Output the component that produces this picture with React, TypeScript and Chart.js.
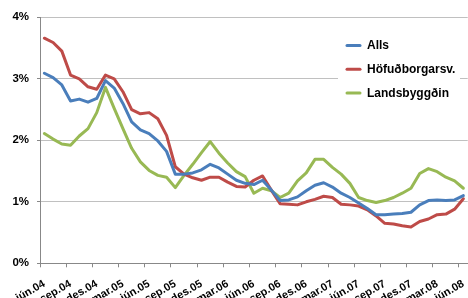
import React, { useEffect, useRef } from 'react';
import { Chart, registerables } from 'chart.js';

Chart.register(...registerables);

const categories = [
  'jún.04', 'júl.04', 'ágú.04', 'sep.04', 'okt.04', 'nóv.04', 'des.04',
  'jan.05', 'feb.05', 'mar.05', 'apr.05', 'maí.05', 'jún.05', 'júl.05', 'ágú.05', 'sep.05', 'okt.05', 'nóv.05', 'des.05',
  'jan.06', 'feb.06', 'mar.06', 'apr.06', 'maí.06', 'jún.06', 'júl.06', 'ágú.06', 'sep.06', 'okt.06', 'nóv.06', 'des.06',
  'jan.07', 'feb.07', 'mar.07', 'apr.07', 'maí.07', 'jún.07', 'júl.07', 'ágú.07', 'sep.07', 'okt.07', 'nóv.07', 'des.07',
  'jan.08', 'feb.08', 'mar.08', 'apr.08', 'maí.08', 'jún.08',
];

const alls = [
  3.09, 3.02, 2.90, 2.64, 2.67, 2.62, 2.68, 2.97, 2.85, 2.60, 2.30, 2.17, 2.11, 1.99, 1.82, 1.45,
  1.45, 1.47, 1.52, 1.61, 1.55, 1.45, 1.35, 1.30, 1.28, 1.35, 1.19, 1.02, 1.03, 1.08, 1.18, 1.27,
  1.31, 1.24, 1.14, 1.07, 0.98, 0.89, 0.79, 0.79, 0.80, 0.81, 0.83, 0.95, 1.02, 1.03, 1.02, 1.03, 1.10,
];

const hofudborgarsv = [
  3.66, 3.59, 3.45, 3.06, 3.00, 2.87, 2.83, 3.06, 3.00, 2.79, 2.50, 2.43, 2.45, 2.35, 2.08, 1.57,
  1.45, 1.39, 1.35, 1.40, 1.40, 1.32, 1.25, 1.24, 1.35, 1.42, 1.19, 0.97, 0.96, 0.95, 1.00, 1.04,
  1.09, 1.07, 0.96, 0.95, 0.93, 0.87, 0.77, 0.65, 0.64, 0.61, 0.59, 0.68, 0.72, 0.79, 0.80, 0.88, 1.05,
];

const landsbyggdin = [
  2.11, 2.02, 1.94, 1.92, 2.07, 2.19, 2.45, 2.86, 2.52, 2.19, 1.87, 1.65, 1.51, 1.43, 1.40, 1.23,
  1.43, 1.61, 1.80, 1.98, 1.79, 1.63, 1.49, 1.41, 1.14, 1.22, 1.18, 1.07, 1.14, 1.34, 1.47, 1.69,
  1.69, 1.56, 1.45, 1.30, 1.07, 1.02, 0.99, 1.02, 1.07, 1.14, 1.22, 1.46, 1.54, 1.49, 1.40, 1.34, 1.22,
];

const yTickLabels = ['0%', '1%', '2%', '3%', '4%'];

const seriesNames = ['Alls', 'Höfuðborgarsv.', 'Landsbyggðin'];
const seriesColors = ['#4A7EBB', '#BE4B48', '#98B954'];

const FONT = '"Liberation Sans", Arial, sans-serif';

const legendPlugin = {
  id: 'insideLegend',
  beforeDatasetsDraw(chart: any) {
    const ctx = chart.ctx;
    ctx.save();
    ctx.fillStyle = '#ffffff';
    ctx.fillRect(338, 28, 122, 80);
    const items = chart.data.datasets;
    items.forEach((ds: any, i: number) => {
      const y = 45.5 + i * 23.8;
      ctx.strokeStyle = ds.borderColor;
      ctx.lineWidth = 3;
      ctx.lineCap = 'round';
      ctx.beginPath();
      ctx.moveTo(347, y);
      ctx.lineTo(360, y);
      ctx.stroke();
      ctx.fillStyle = '#000';
      ctx.font = `bold 12px ${FONT}`;
      ctx.textBaseline = 'middle';
      ctx.textAlign = 'left';
      ctx.fillText(ds.label, 367, y + 0.5);
    });
    ctx.restore();
  },
};

export default function App() {
  const ref = useRef<HTMLCanvasElement>(null);

  useEffect(() => {
    if (!ref.current) return;
    const H = 320;
    const chart = new Chart(ref.current, {
      type: 'line',
      data: {
        labels: categories,
        datasets: [alls, hofudborgarsv, landsbyggdin].map((d, i) => ({
          label: seriesNames[i],
          data: d,
          borderColor: seriesColors[i],
          backgroundColor: seriesColors[i],
          borderWidth: 3,
          pointRadius: 0,
          tension: 0,
          fill: false,
          borderJoinStyle: 'round' as const,
          borderCapStyle: 'round' as const,
        })),
      },
      options: {
        responsive: false,
        animation: false,
        devicePixelRatio: 1,
        layout: { padding: { top: 17.3, right: 4.4, left: 0, bottom: 0 } },
        plugins: {
          legend: { display: false },
          tooltip: { enabled: false },
        },
        scales: {
          x: {
            type: 'category',
            offset: true,
            grid: {
              offset: true,
              drawOnChartArea: false,
              drawTicks: true,
              tickLength: 4,
              color: (c: any) => (c.index !== undefined && c.index % 3 === 0 ? '#888888' : 'rgba(0,0,0,0)'),
              tickColor: (c: any) => (c.index !== undefined && c.index % 3 === 0 ? '#888888' : 'rgba(0,0,0,0)'),
            },
            border: { color: '#888888', width: 1 },
            ticks: {
              autoSkip: false,
              maxRotation: 30,
              minRotation: 30,
              padding: 10,
              color: '#000',
              font: { family: FONT, size: 11, weight: 'bold' },
              callback: (_v: any, i: number) => (i % 3 === 0 ? categories[i] : ''),
            },
            afterFit: (s: any) => {
              s.height = H - 263.3;
            },
          },
          y: {
            min: 0,
            max: 4,
            grid: {
              color: (c: any) => (c.tick && c.tick.value === 0 ? '#888888' : '#C0C0C0'),
              tickColor: '#888888',
              tickLength: 3,
            },
            border: { color: '#888888', width: 1 },
            ticks: {
              stepSize: 1,
              padding: 8,
              color: '#000',
              font: { family: FONT, size: 11.5, weight: 'bold' },
              callback: (v: any) => yTickLabels[Math.round(Number(v))],
            },
            afterFit: (s: any) => {
              s.width = 40;
            },
          },
        },
      },
      plugins: [legendPlugin],
    });
    return () => chart.destroy();
  }, []);

  return (
    <div
      style={{
        position: 'fixed',
        left: 0,
        top: 0,
        width: 468,
        height: 298,
        overflow: 'hidden',
        background: '#ffffff',
      }}
    >
      <canvas
        ref={ref}
        width={480}
        height={320}
        style={{ display: 'block', width: 480, height: 320, position: 'absolute', left: 0, top: 0 }}
      />
    </div>
  );
}
